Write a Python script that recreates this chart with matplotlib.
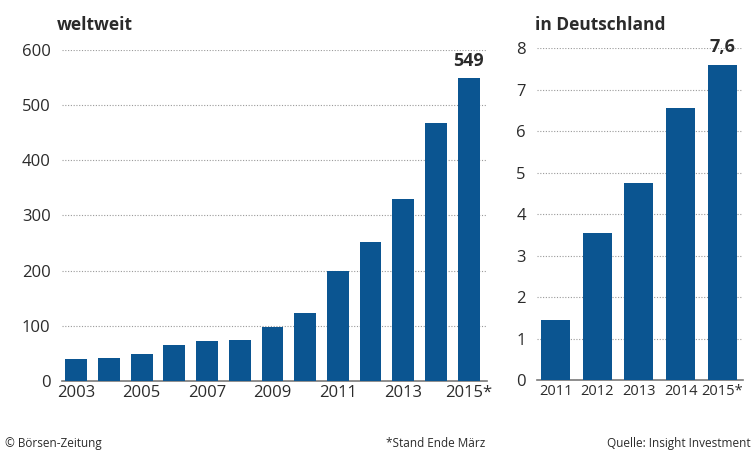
import matplotlib
matplotlib.use("Agg")
import matplotlib.pyplot as plt

plt.rcParams['font.family'] = ['Open Sans', 'DejaVu Sans']

# weltweit
years_world = ["2003", "2004", "2005", "2006", "2007", "2008", "2009",
               "2010", "2011", "2012", "2013", "2014", "2015*"]
values_world = [40, 42, 49, 65, 73, 74, 97, 124, 200, 251, 329, 467, 549]
yticks_world = [0, 100, 200, 300, 400, 500, 600]

# in Deutschland
years_de = ["2011", "2012", "2013", "2014", "2015*"]
values_de = [1.45, 3.54, 4.75, 6.55, 7.6]
yticks_de = [0, 1, 2, 3, 4, 5, 6, 7, 8]

bar_color = "#0b5591"
text_color = "#2b2b2b"

fig = plt.figure(figsize=(7.52, 4.54), dpi=100)
fig.patch.set_facecolor("white")

ax1 = fig.add_axes([0.082, 0.161, 0.565, 0.729])
ax2 = fig.add_axes([0.714, 0.163, 0.274, 0.731])


def style_axis(ax, yticks):
    ax.set_ylim(yticks[0], yticks[-1])
    ax.set_yticks(yticks)
    for s in ["top", "right", "left"]:
        ax.spines[s].set_visible(False)
    ax.spines["bottom"].set_color("#7a7a7a")
    ax.spines["bottom"].set_linewidth(1.2)
    ax.grid(axis="y", linestyle=(0, (1, 1.5)), color="#9a9a9a", linewidth=0.8)
    ax.set_axisbelow(True)
    ax.tick_params(axis="both", length=0, labelsize=12, colors=text_color)
    ax.tick_params(axis="y", pad=8)
    ax.tick_params(axis="x", pad=3)


x1 = range(len(years_world))
ax1.bar(x1, values_world, width=0.67, color=bar_color, zorder=3)
style_axis(ax1, yticks_world)
ax1.set_xlim(-0.45, 12.55)
ax1.set_xticks(list(x1))
ax1.set_xticklabels([y if i % 2 == 0 else "" for i, y in enumerate(years_world)])
ax1.text(x1[-1], values_world[-1] + 14, str(values_world[-1]), ha="center",
         va="bottom", fontsize=13, fontweight="bold", color=text_color)

x2 = range(len(years_de))
ax2.bar(x2, values_de, width=0.7, color=bar_color, zorder=3)
style_axis(ax2, yticks_de)
ax2.set_xlim(-0.45, 4.5)
ax2.set_xticks(list(x2))
ax2.set_xticklabels(years_de)
ax2.tick_params(axis="x", labelsize=10.5)
ax2.text(x2[-1], values_de[-1] + 0.2, "7,6", ha="center", va="bottom",
         fontsize=13, fontweight="bold", color=text_color)

fig.text(0.075, 0.935, "weltweit", fontsize=12.5, fontweight="bold",
         color=text_color, ha="left", va="baseline")
fig.text(0.711, 0.935, "in Deutschland", fontsize=12.5, fontweight="bold",
         color=text_color, ha="left", va="baseline")

fig.text(0.007, 0.008, "© Börsen-Zeitung", fontsize=8.5, color=text_color,
         ha="left", va="bottom")
fig.text(0.645, 0.008, "*Stand Ende März", fontsize=8.5, color=text_color,
         ha="right", va="bottom")
fig.text(0.998, 0.008, "Quelle: Insight Investment", fontsize=8.5,
         color=text_color, ha="right", va="bottom")

fig.savefig("out.png", dpi=100)
